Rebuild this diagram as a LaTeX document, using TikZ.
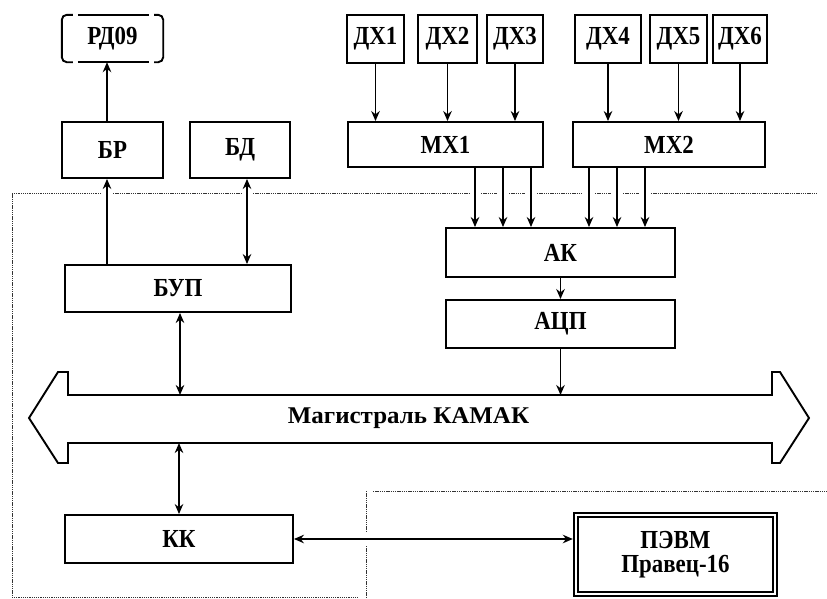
\documentclass[tikz,border=0pt]{standalone}
\usepackage{fontspec}
\newfontfamily\boxfont[FakeStretch=0.88]{Liberation Serif}
\newfontfamily\busfont[FakeStretch=1.04]{Liberation Serif}
\usetikzlibrary{arrows.meta}
\begin{document}
\begin{tikzpicture}[x=1pt,y=-1pt,
  blk/.style={draw, line width=1.9pt, inner sep=0pt, font=\boxfont\bfseries\fontsize{26}{28}\selectfont},
  lbl/.style={inner sep=0pt, font=\boxfont\bfseries\fontsize{26}{28}\selectfont},
  wire/.style={line width=1.9pt},
  conn/.style={line width=1.9pt, -{Stealth[length=10pt,width=8.5pt]}},
  biconn/.style={line width=1.9pt, {Stealth[length=10pt,width=8.5pt]}-{Stealth[length=10pt,width=8.5pt]}},
  region/.style={line width=0.9pt, dash pattern=on 1.3pt off 0.9pt, black!80}]
\useasboundingbox (0,0) rectangle (827,598);

% top row
\node[lbl, minimum width=101pt, minimum height=47pt] (rd) at (112.5,38.5) {РД09};
\draw[wire, rounded corners=5pt] ([xshift=11pt]rd.north west) -- (rd.north west) -- (rd.south west) -- ([xshift=11pt]rd.south west);
\draw[wire, rounded corners=5pt] ([xshift=-9pt]rd.north east) -- (rd.north east) -- (rd.south east) -- ([xshift=-9pt]rd.south east);
\draw[wire] ([xshift=16pt]rd.north west) -- ([xshift=-14pt]rd.north east);
\draw[wire] ([xshift=16pt]rd.south west) -- ([xshift=-14pt]rd.south east);

\node[blk, minimum width=101pt, minimum height=56pt] (br) at (112.5,150) {БР};
\node[blk, minimum width=100pt, minimum height=56pt] (bd) at (240,150) {БД};

\node[blk, minimum width=57pt, minimum height=48pt] (dx1) at (375.5,39) {ДХ1};
\node[blk, minimum width=59pt, minimum height=48pt] (dx2) at (447.5,39) {ДХ2};
\node[blk, minimum width=56pt, minimum height=48pt] (dx3) at (515,39) {ДХ3};
\node[blk, minimum width=66pt, minimum height=48pt] (dx4) at (608,39) {ДХ4};
\node[blk, minimum width=57pt, minimum height=48pt] (dx5) at (678.5,39) {ДХ5};
\node[blk, minimum width=54pt, minimum height=48pt] (dx6) at (740,39) {ДХ6};

\node[blk, minimum width=195pt, minimum height=45pt] (mx1) at (445.5,144.5) {МХ1};
\node[blk, minimum width=192pt, minimum height=45pt] (mx2) at (669,144.5) {МХ2};

\node[blk, minimum width=229pt, minimum height=49pt] (ak) at (560.5,252.5) {АК};
\node[blk, minimum width=229pt, minimum height=48pt] (acp) at (560.5,324) {АЦП};

\node[blk, minimum width=226pt, minimum height=47pt] (bup) at (178,288.5) {БУП};
\node[blk, minimum width=228pt, minimum height=48pt] (kk) at (179,539) {КК};

\node[draw, double, double distance=2.5pt, line width=1.4pt, inner sep=0pt,
      minimum width=199pt, minimum height=79pt, align=center,
      font=\boxfont\bfseries\fontsize{26}{25}\selectfont] (pc) at (675.5,554.5) {ПЭВМ\\[-1pt]Правец-16};

% bus
\coordinate (bt) at (0,395);
\coordinate (bb) at (0,443);
\draw[wire, line join=miter] (68,395) -- (772,395) -- (772,372) -- (780,372) -- (809,418) -- (780,463) -- (772,463) -- (772,443)
  -- (68,443) -- (68,463) -- (58,463) -- (29,418) -- (58,372) -- (68,372) -- cycle;
\node[inner sep=0pt, font=\busfont\bfseries\fontsize{24}{26}\selectfont] (bus) at (408.5,418) {Магистраль КАМАК};

% connectors
\draw[conn] ([xshift=-5.5pt]br.north) -- ([xshift=-5.5pt]rd.south);
\draw[conn] ([xshift=-5.5pt]br.south |- bup.north) -- ([xshift=-5.5pt]br.south);
\draw[biconn] ([xshift=7pt]bd.south) -- ([xshift=7pt]bd.south |- bup.north);
\foreach \d/\m in {dx1/mx1,dx2/mx1,dx3/mx1,dx4/mx2,dx5/mx2,dx6/mx2}
  \draw[conn] (\d.south) -- (\d.south |- \m.north);
\foreach \s in {29.5,57.5,85.5}
  \draw[conn] ([xshift=\s pt]mx1.south) -- ([xshift=\s pt]mx1.south |- ak.north);
\foreach \s in {-80,-52,-24}
  \draw[conn] ([xshift=\s pt]mx2.south) -- ([xshift=\s pt]mx2.south |- ak.north);
\draw[conn] (ak.south) -- (acp.north);
\draw[conn] (acp.south) -- (acp.south |- bt);
\draw[biconn] ([xshift=2pt]bup.south) -- ([xshift=2pt]bup.south |- bt);
\draw[biconn] (kk.north |- bb) -- (kk.north);
\draw[biconn] (kk.east) -- ([xshift=-2.5pt]kk.east -| pc.west);

% dotted region boundaries
\draw[region] (101,193) -- (12,193) -- (12,597) -- (358,597);
\foreach \a/\b in {113/241,253/469,481/497,509/525,537/583,595/611,623/639,651/818}
  \draw[region] (\a,193) -- (\b,193);
\draw[region] (366,491) -- (366,531);
\draw[region] (366,546) -- (366,597);
\draw[region] (373,491) -- (827,491);
\end{tikzpicture}
\end{document}
